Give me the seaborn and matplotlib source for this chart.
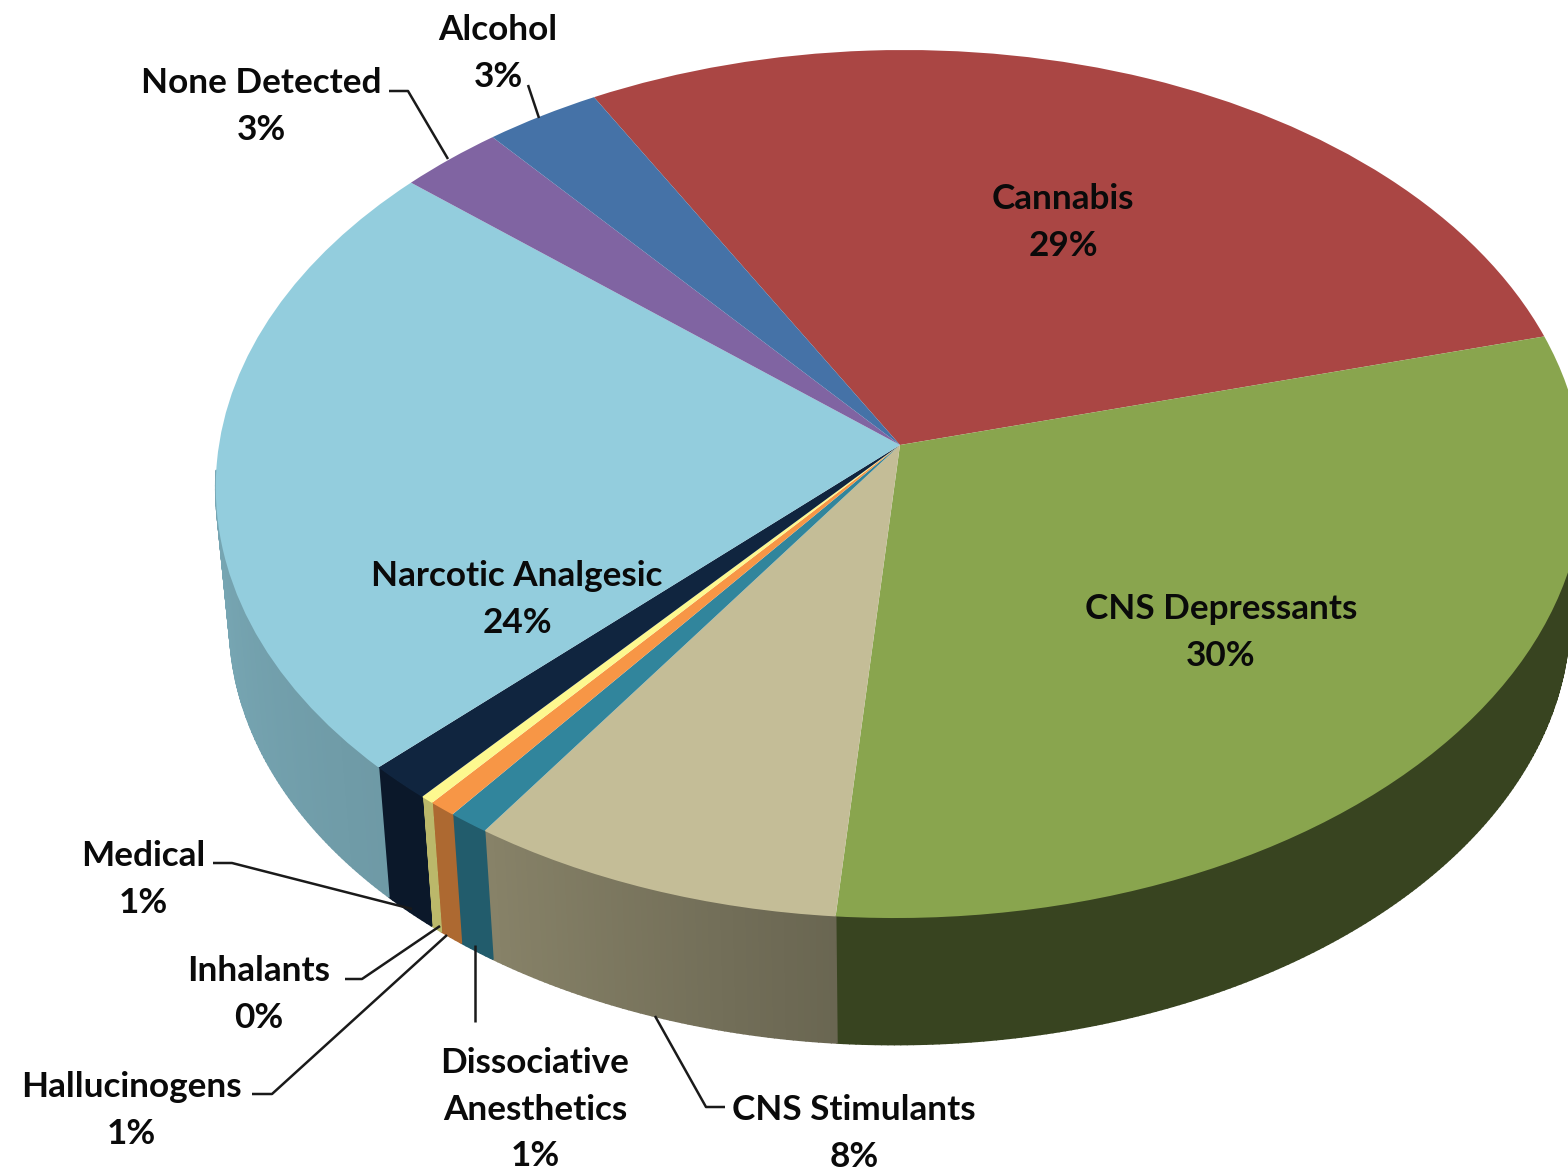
import numpy as np
import matplotlib
matplotlib.use("Agg")
import matplotlib.pyplot as plt
from matplotlib.collections import PolyCollection
from matplotlib.transforms import Transform
from matplotlib.colors import to_rgb
import seaborn as sns

# ---- data (clockwise from the Cannabis slice) ----
categories = ["Cannabis", "CNS Depressants", "CNS Stimulants", "Dissociative\nAnesthetics",
              "Hallucinogens", "Inhalants", "Medical", "Narcotic Analgesic",
              "None Detected", "Alcohol"]
values = [29.1, 30.5, 8.2, 0.9, 0.6, 0.3, 1.4, 23.6, 2.7, 3.0]

# ---- styles ----
top_colors = ["#AA4644", "#89A54E", "#C4BD97", "#31859C", "#F79646", "#FDF88F",
              "#10253F", "#93CDDD", "#8064A2", "#4572A7"]
wall_shade = [(.41, .41), (.41, .41), (.69, .54), (.69, .69), (.70, .70), (.74, .74),
              (.66, .66), (.898, .75), (.6, .6), (.6, .6)]
label_pos = [(1063, 220), (1221, 630), (854, 1131), (535, 1107), (131, 1108),
             (259, 992), (143, 877), (517, 597), (261, 104), (498, 51)]
leaders = [((389, 408, 448), (91, 91, 159)),
           ((528, 539), (85, 118)),
           ((213, 232, 412), (863, 863, 909)),
           ((345, 362, 440), (979, 979, 926)),
           ((252, 272, 447), (1094, 1094, 935)),
           ((475, 475), (1022, 945)),
           ((725, 706, 655), (1107, 1107, 1016))]

APEX = (900.0, 445.0)
A, B, K, SKEW = 681.0, 430.5, 0.0899, 5.0
WALL_S, WALL_C = 0.98, 581.0
START_ANGLE = 119.4


class Perspective(Transform):
    input_dims = output_dims = 2
    is_separable = False
    has_inverse = False

    def transform_non_affine(self, xy):
        xy = np.asarray(xy, float)
        u, v = xy[:, 0], xy[:, 1]
        w = 1 + K * v
        return np.column_stack((APEX[0] + (A * u + SKEW * v) / w, APEX[1] - B * v / w))


sns.set_theme(style="white")
plt.rcParams["font.family"] = ["Lato", "DejaVu Sans"]
fig = plt.figure(figsize=(15.68, 11.70), dpi=100, facecolor="white")
ax = fig.add_axes([0, 0, 1, 1])

wedges, _ = ax.pie(values, colors=top_colors, startangle=START_ANGLE, counterclock=False,
                   wedgeprops=dict(linewidth=0))
ax.set_aspect("auto")
ax.set_xlim(0, 1568)
ax.set_ylim(1170, 0)
ax.axis("off")

persp = Perspective()
for w in wedges:
    w.set_transform(persp + ax.transData)
    w.set_zorder(3)

# side wall, built from the slices' own angles
polys, cols = [], []
for w, col, (s0, s1) in zip(wedges, top_colors, wall_shade):
    t = np.arange(w.theta1, w.theta2 + .5, .5)
    t = np.clip(t, w.theta1, w.theta2)
    rgb = np.array(to_rgb(col))
    rim = persp.transform(np.column_stack((np.cos(np.radians(t)), np.sin(np.radians(t)))))
    low = np.column_stack((APEX[0] + WALL_S * (rim[:, 0] - APEX[0]),
                           WALL_C + WALL_S * (rim[:, 1] - APEX[1])))
    for i in range(len(t) - 1):
        if np.sin(np.radians(t[i])) > -0.05:
            continue
        f = i / max(len(t) - 2, 1)
        polys.append([rim[i], rim[i + 1], low[i + 1], low[i]])
        cols.append(rgb * (s0 + (s1 - s0) * f))
ax.add_collection(PolyCollection(polys, facecolors=cols, edgecolors=cols, linewidths=1.2, zorder=2))

for (xs, ys) in leaders:
    ax.plot(xs, ys, color="#1a1a1a", lw=1.8, zorder=4, solid_capstyle="butt")

for name, val, (x, y) in zip(categories, values, label_pos):
    ax.text(x, y + 2.5, f"{name}\n{val:.0f}%", ha="center", va="center", fontsize=25.3,
            fontweight="bold", color="#0a0a0a", linespacing=1.54, zorder=5)

fig.savefig("out.png", dpi=100)
